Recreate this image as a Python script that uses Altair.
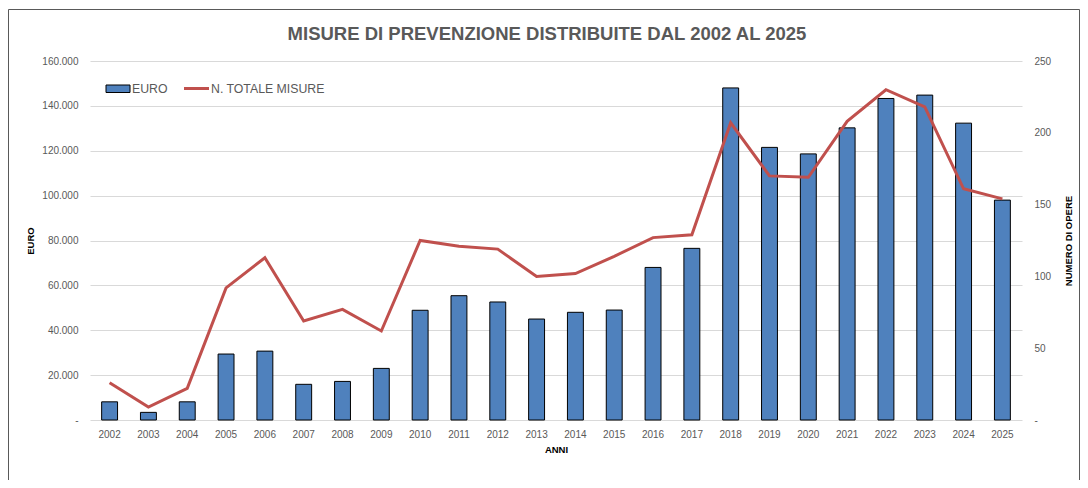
import altair as alt
import pandas as pd

anni = ["2002", "2003", "2004", "2005", "2006", "2007", "2008", "2009", "2010", "2011", "2012", "2013",
        "2014", "2015", "2016", "2017", "2018", "2019", "2020", "2021", "2022", "2023", "2024", "2025"]
euro = [8100, 3400, 8100, 29400, 30700, 15900, 17200, 23000, 48900, 55400, 52600, 45000,
        48000, 49000, 68000, 76500, 148000, 121500, 118600, 130200, 143300, 144800, 132300, 98000]
misure = [26, 9, 22, 92, 113, 69, 77, 62, 125, 121, 119, 100,
          102, 114, 127, 129, 207, 170, 169, 208, 230, 218, 161, 154]

titolo = "MISURE DI PREVENZIONE DISTRIBUITE DAL 2002 AL 2025"
legenda = ["EURO", "N. TOTALE MISURE"]
euro_ticks = [0, 20000, 40000, 60000, 80000, 100000, 120000, 140000, 160000]
opere_ticks = [0, 50, 100, 150, 200, 250]

df = pd.DataFrame({"anno": anni, "euro": euro, "misure": misure})

FONT = "Liberation Sans"
GRAY = "#595959"
BLUE = "#4F81BD"
RED = "#C0504D"
W, H = 932, 359

x_enc = alt.X("anno:N", sort=anni, title="ANNI",
              scale=alt.Scale(paddingInner=0.59, paddingOuter=0.3),
              axis=alt.Axis(labelAngle=0, labelPadding=9, titlePadding=5))

bars = alt.Chart(df).mark_bar(color=BLUE, stroke="black", strokeWidth=1).encode(
    x=x_enc,
    y=alt.Y("euro:Q", title="EURO",
            scale=alt.Scale(domain=[0, 160000], nice=False),
            axis=alt.Axis(values=euro_ticks, grid=True, gridColor="#D9D9D9",
                          labelExpr="datum.value == 0 ? '-' : format(datum.value / 1000, '.3f')",
                          labelPadding=12, titleX=-60, titleY=H / 2, titleAngle=270,
                          titleBaseline="middle")),
)

line = alt.Chart(df).mark_line(color=RED, strokeWidth=3).encode(
    x=x_enc,
    y=alt.Y("misure:Q", title="NUMERO DI OPERE",
            scale=alt.Scale(domain=[0, 250], nice=False),
            axis=alt.Axis(orient="right", values=opere_ticks, grid=False,
                          labelExpr="datum.value == 0 ? '-' : format(datum.value, 'd')",
                          labelPadding=12, titleX=46, titleY=H / 2, titleAngle=270,
                          titleBaseline="middle")),
)

one = alt.Data(values=[{"k": 1}])

border = alt.Chart(one).mark_rect(fill="white", fillOpacity=0, stroke=GRAY, strokeWidth=1).encode(
    x=alt.value(-81.5), x2=alt.value(W + 57.5), y=alt.value(-51.5), y2=alt.value(H + 200)
)

title_txt = alt.Chart(alt.Data(values=[{"t": titolo}])).mark_text(
    font=FONT, fontSize=18.5, fontWeight="bold", color=GRAY, align="center", baseline="alphabetic"
).encode(x=alt.value(457), y=alt.value(-21), text="t:N")

leg_rect = alt.Chart(one).mark_rect(color=BLUE, stroke="black", strokeWidth=1).encode(
    x=alt.value(16), x2=alt.value(40), y=alt.value(24), y2=alt.value(31.5)
)
leg_rule = alt.Chart(one).mark_rule(color=RED, strokeWidth=3).encode(
    x=alt.value(94), x2=alt.value(119), y=alt.value(27.5)
)
leg_t1 = alt.Chart(alt.Data(values=[{"t": legenda[0]}])).mark_text(
    font=FONT, fontSize=12.3, color=GRAY, align="left", baseline="middle"
).encode(x=alt.value(42), y=alt.value(28), text="t:N")
leg_t2 = alt.Chart(alt.Data(values=[{"t": legenda[1]}])).mark_text(
    font=FONT, fontSize=12.3, color=GRAY, align="left", baseline="middle"
).encode(x=alt.value(121), y=alt.value(28), text="t:N")

chart = alt.layer(
    bars, line, border, title_txt, leg_rect, leg_rule, leg_t1, leg_t2
).resolve_scale(y="independent").properties(
    width=W, height=H,
    autosize=alt.AutoSizeParams(type="none"),
    padding={"left": 82, "top": 53, "right": 58, "bottom": 60},
    background="white",
).configure_view(stroke=None).configure_axis(
    labelFont=FONT, labelFontSize=10, labelColor=GRAY,
    titleFont=FONT, titleFontSize=9.5, titleFontWeight="bold", titleColor="black",
    domain=False, ticks=False,
)

chart.save("out.html", embed_options={"renderer": "svg", "actions": False})
